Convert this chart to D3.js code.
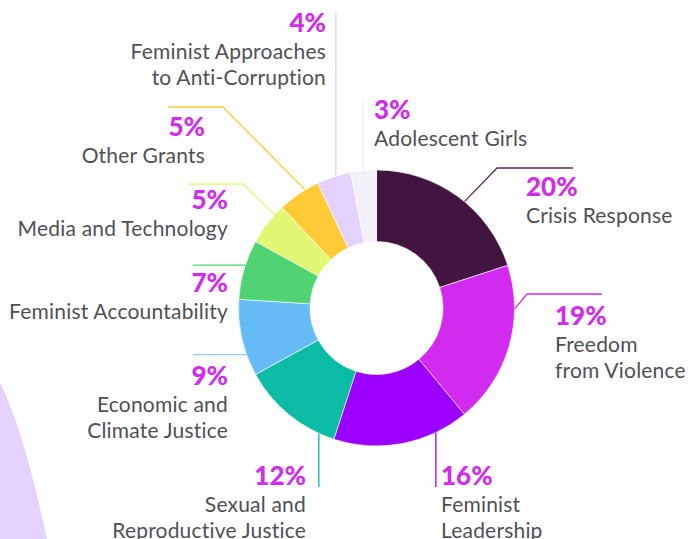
<!DOCTYPE html>
<html><head><meta charset="utf-8">
<script src="https://cdn.jsdelivr.net/npm/d3@7"></script>
<style>html,body{margin:0;padding:0;background:#fff;}svg{display:block;}</style>
</head><body>
<svg id="chart" width="689" height="539"></svg>
<script>
const categories = ["Crisis Response","Freedom from Violence","Feminist Leadership","Sexual and Reproductive Justice","Economic and Climate Justice","Feminist Accountability","Media and Technology","Other Grants","Feminist Approaches to Anti-Corruption","Adolescent Girls"];
const values = [20,19,16,12,9,7,5,5,4,3];
const labelLines = [["Crisis Response"],["Freedom","from Violence"],["Feminist","Leadership"],["Sexual and","Reproductive Justice"],["Economic and","Climate Justice"],["Feminist Accountability"],["Media and Technology"],["Other Grants"],["Feminist Approaches","to Anti-Corruption"],["Adolescent Girls"]];
const colors = ["#411540","#D02BEF","#9B00FE","#0BBBA6","#64BBF5","#50D473","#E2F774","#FECA36","#E3D1FE","#F3F0F7"];
const lineColors = ["#5a2a58","#D02BEF","#9B00FE","#0BBBA6","#8CCBF5","#50D473","#E2F774","#FECA36","#E3D1FE","#EEEAF3"];

// layout (positions of labels / leader geometry)
const cx = 376.5, cy = 308, rOuter = 138, rInner = 66.5;
const layout = [
  {frac:0.55, leader:{type:"k", knee:[497,168], end:573}, anchor:"start", x:526, y:196},
  {frac:0.27, leader:{type:"k", knee:[527,294], end:602}, anchor:"start", x:555, y:325},
  {frac:0.245, leader:{type:"v", end:487}, anchor:"start", x:441, y:485},
  {frac:0.155, leader:{type:"v", end:487}, anchor:"end", x:306, y:485},
  {frac:0.28, leader:{type:"h", end:193}, anchor:"end", x:228, y:385},
  {frac:0.575, leader:{type:"h", end:193}, anchor:"end", x:228, y:292},
  {frac:0.76, leader:{type:"k", knee:[243,184], end:189}, anchor:"end", x:228, y:209},
  {frac:0.67, leader:{type:"k", knee:[223,107], end:168}, anchor:"end", x:205, y:136},
  {frac:0.56, leader:{type:"v", end:12}, anchor:"end", x:326, y:32},
  {frac:0.48, leader:{type:"v", end:100}, anchor:"start", x:374, y:119}
];

const svg = d3.select("#chart");

// decorative background shape bottom-left
svg.append("path")
  .attr("d","M0,383 C14,410 30,460 47,539 L0,539 Z")
  .attr("fill","#E5D3FD");

const pie = d3.pie().sort(null).value(d=>d)(values);
const arc = d3.arc().innerRadius(rInner).outerRadius(rOuter);
const g = svg.append("g").attr("transform",`translate(${cx},${cy})`);
g.selectAll("path.slice").data(pie).join("path")
  .attr("class","slice")
  .attr("d",arc)
  .attr("fill",(d,i)=>colors[i])
  .attr("stroke","#fff").attr("stroke-width",0.6);

// leaders
pie.forEach((d,i)=>{
  const L = layout[i];
  const a = d.startAngle + (d.endAngle-d.startAngle)*L.frac;
  const px = cx + rOuter*Math.sin(a), py = cy - rOuter*Math.cos(a);
  let pts;
  if (L.leader.type==="v") pts = [[px,py],[px,L.leader.end]];
  else if (L.leader.type==="h") pts = [[px,py],[L.leader.end,py]];
  else pts = [[px,py],L.leader.knee,[L.leader.end,L.leader.knee[1]]];
  svg.append("path").attr("d",d3.line()(pts))
    .attr("fill","none").attr("stroke",lineColors[i]).attr("stroke-width",1.3);
});

// labels
layout.forEach((L,i)=>{
  const t = svg.append("g");
  t.append("text").attr("x",L.x).attr("y",L.y).attr("text-anchor",L.anchor)
    .attr("font-family","Lato, sans-serif").attr("font-weight",900).attr("font-size",26)
    .attr("fill","#D02BEF").text(values[i]+"%");
  labelLines[i].forEach((s,j)=>{
    t.append("text").attr("x",L.x).attr("y",L.y+26.5*(j+1)).attr("text-anchor",L.anchor)
      .attr("font-family","Lato, sans-serif").attr("font-weight",400).attr("font-size",21)
      .attr("letter-spacing",0.2)
      .attr("fill","#4F5056").text(s);
  });
});
</script>
</body></html>
